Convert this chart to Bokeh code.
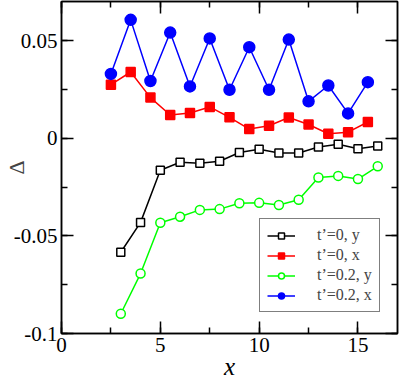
from bokeh.plotting import figure
from bokeh.models import (Range1d, LinearAxis, SingleIntervalTicker,
                          CustomJSTickFormatter, Legend, Title)
from bokeh.embed import file_html
from bokeh.resources import INLINE

# data
x_half = [2.5, 3.5, 4.5, 5.5, 6.5, 7.5, 8.5, 9.5, 10.5, 11.5, 12.5, 13.5, 14.5, 15.5]
x_int = [3, 4, 5, 6, 7, 8, 9, 10, 11, 12, 13, 14, 15, 16]
t0_y = [-0.0584, -0.0431, -0.0164, -0.0123, -0.0128, -0.0118, -0.0073, -0.0056,
        -0.0076, -0.0076, -0.0045, -0.0031, -0.0054, -0.0040]
t0_x = [0.0274, 0.0339, 0.0208, 0.0119, 0.0129, 0.0160, 0.0107, 0.0047,
        0.0064, 0.0106, 0.0070, 0.0023, 0.0031, 0.0083]
t02_y = [-0.0899, -0.0693, -0.0433, -0.0402, -0.0367, -0.0363, -0.0333, -0.0331,
         -0.0342, -0.0315, -0.0201, -0.0193, -0.0209, -0.0144]
t02_x = [0.0329, 0.0606, 0.0293, 0.0541, 0.0265, 0.0511, 0.0248, 0.0466,
         0.0248, 0.0505, 0.0189, 0.0270, 0.0127, 0.0287]
labels = ["t\u2019=0, y", "t\u2019=0, x", "t\u2019=0.2, y", "t\u2019=0.2, x"]
x_title = "x"
y_title = "\u0394"

FONT = "Liberation Serif"

p = figure(width=399, height=376, output_backend="svg", toolbar_location=None,
           x_range=Range1d(0, 17), y_range=Range1d(-0.1, 0.07),
           min_border_left=57, min_border_right=2, min_border_top=1, min_border_bottom=20)
p.grid.visible = False
p.outline_line_color = "black"
p.outline_line_width = 1.5

fmt = CustomJSTickFormatter(code="return String(Number(tick.toFixed(4)));")

def style_axis(ax, show_labels):
    ax.axis_line_color = "black"
    ax.axis_line_width = 1.5
    ax.major_tick_line_width = 1.5
    ax.minor_tick_line_width = 1.5
    ax.major_tick_in = 12
    ax.major_tick_out = 0
    ax.minor_tick_in = 6
    ax.minor_tick_out = 0
    ax.major_label_text_font = FONT
    ax.major_label_text_color = "black"
    if show_labels:
        ax.major_label_text_font_size = "21px"
    else:
        ax.major_label_text_font_size = "1px"
        ax.major_label_text_color = None
        ax.major_label_standoff = 0

xt = SingleIntervalTicker(interval=5, num_minor_ticks=2)
yt = SingleIntervalTicker(interval=0.05, num_minor_ticks=2)

p.xaxis.ticker = xt
p.yaxis.ticker = yt
p.xaxis.formatter = fmt
p.yaxis.formatter = fmt
style_axis(p.xaxis[0], True)
style_axis(p.yaxis[0], True)
p.xaxis.major_label_standoff = 4
p.yaxis.major_label_standoff = 4
p.yaxis.axis_label = y_title
p.yaxis.axis_label_text_font = FONT
p.yaxis.axis_label_text_font_style = "normal"
p.yaxis.axis_label_text_font_size = "22px"
p.yaxis.axis_label_standoff = -18

# x title as a bottom title, pulled up under the tick labels
xt_title = Title(text=x_title, align="center", vertical_align="bottom",
                 text_font=FONT, text_font_style="italic", text_font_size="25px",
                 text_color="black", standoff=-7, offset=0)
p.add_layout(xt_title, "below")

top = LinearAxis(ticker=xt, formatter=fmt)
style_axis(top, False)
p.add_layout(top, "above")
right = LinearAxis(ticker=yt, formatter=fmt)
style_axis(right, False)
p.add_layout(right, "right")

series = [
    (x_int, t0_y, "black", "square", 8, "white"),
    (x_half, t0_x, "red", "square", 9, "red"),
    (x_int, t02_y, "#00ff00", "circle", 9, "white"),
    (x_half, t02_x, "blue", "circle", 11, "blue"),
]
items = []
for (xs, ys, col, mk, sz, fill), lab in zip(series, labels):
    l = p.line(xs, ys, line_color=col, line_width=1.5)
    s = p.scatter(xs, ys, marker=mk, size=sz, line_color=col, line_width=1.5, fill_color=fill)
    items.append((lab, [l, s]))

leg = Legend(items=items, location=(198, 21))
leg.label_text_font = FONT
leg.label_text_font_size = "16px"
leg.glyph_width = 28
leg.glyph_height = 15
leg.spacing = 2
leg.padding = 7
leg.label_standoff = 22
leg.border_line_color = "black"
leg.border_line_width = 1.5
leg.background_fill_color = "white"
leg.background_fill_alpha = 1
leg.margin = 0
p.add_layout(leg, "center")

open("out.html", "w").write(file_html(p, INLINE))
